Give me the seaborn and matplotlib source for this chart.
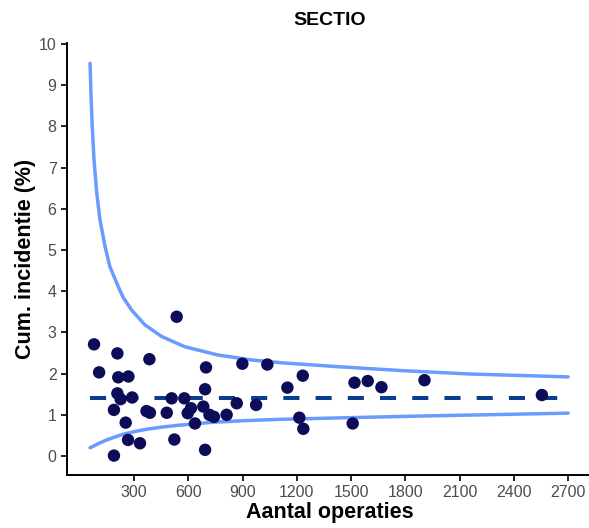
import seaborn as sns
import pandas as pd
import matplotlib.pyplot as plt

# hospitals: number of operations and cumulative incidence (%)
operaties = [79, 107, 208, 385, 536, 213, 269, 698, 899, 1037, 1233, 1148,
             208, 226, 290, 693, 508, 578, 189, 369, 388, 481, 615, 597,
             683, 717, 742, 812, 868, 975, 637, 254, 1214, 1236, 267, 333,
             523, 693, 189, 1519, 1592, 1668, 1906, 2555, 1509]
incidentie = [2.71, 2.03, 2.49, 2.35, 3.38, 1.91, 1.93, 2.15, 2.24, 2.22, 1.95, 1.66,
              1.52, 1.38, 1.42, 1.62, 1.40, 1.40, 1.12, 1.09, 1.05, 1.05, 1.16, 1.04,
              1.20, 1.00, 0.95, 1.00, 1.28, 1.24, 0.79, 0.81, 0.93, 0.66, 0.39, 0.31,
              0.40, 0.15, 0.01, 1.78, 1.82, 1.67, 1.84, 1.48, 0.79]

# control limits
upper_x = [57, 62, 69, 79, 94, 112, 140, 167, 213, 240, 287, 361, 453, 582, 766,
           951, 1124, 1421, 1790, 2158, 2700]
upper_y = [9.53, 8.80, 7.99, 7.18, 6.38, 5.73, 5.08, 4.59, 4.11, 3.85, 3.54, 3.18,
           2.90, 2.65, 2.45, 2.33, 2.26, 2.17, 2.07, 1.99, 1.92]
lower_x = [57, 85, 112, 149, 200, 241, 300, 370, 450, 554, 739, 923, 1108, 1384,
           1882, 2700]
lower_y = [0.20, 0.26, 0.32, 0.39, 0.47, 0.53, 0.59, 0.65, 0.70, 0.75, 0.82, 0.86,
           0.89, 0.92, 0.97, 1.04]

gemiddelde_x = [57, 2700]
gemiddelde = 1.415

df = pd.DataFrame({'operaties': operaties, 'incidentie': incidentie})

sns.set_style('ticks')
plt.rcParams['font.family'] = ['Liberation Sans', 'DejaVu Sans']

fig = plt.figure(figsize=(5.89, 5.28), dpi=100)
ax = fig.add_axes([67 / 589, 53 / 528, 525 / 589, 432 / 528])

curve_col = '#6a9bff'
sns.lineplot(x=upper_x, y=upper_y, color=curve_col, linewidth=2.5, ax=ax,
             estimator=None, sort=True)
sns.lineplot(x=lower_x, y=lower_y, color=curve_col, linewidth=2.5, ax=ax,
             estimator=None, sort=True)
sns.lineplot(x=gemiddelde_x, y=[gemiddelde] * len(gemiddelde_x), color='#0b3d91',
             linewidth=2.9, linestyle=(0, (4, 4)), ax=ax, estimator=None)
sns.scatterplot(data=df, x='operaties', y='incidentie', color='#0c0c58', s=80,
                edgecolor='none', ax=ax, zorder=3)

ax.set_xlim(-70.5, 2832)
ax.set_ylim(-0.461, 10.024)
ax.set_xticks(range(300, 2701, 300))
ax.set_yticks(range(0, 11))
ax.tick_params(axis='both', labelsize=11.5, labelcolor='#4d4d4d', length=4,
               width=1.4, color='#222222')
for s in ['left', 'bottom']:
    ax.spines[s].set_linewidth(1.4)
    ax.spines[s].set_color('black')
sns.despine(ax=ax)

ax.set_xlabel('Aantal operaties', fontsize=15.5, fontweight='bold', labelpad=1,
              color='black')
ax.set_ylabel('Cum. incidentie (%)', fontsize=15.5, fontweight='bold', labelpad=2,
              color='black')
ax.set_title('SECTIO', fontsize=14, fontweight='bold', pad=13, color='black')

fig.savefig('out.png', dpi=100)
